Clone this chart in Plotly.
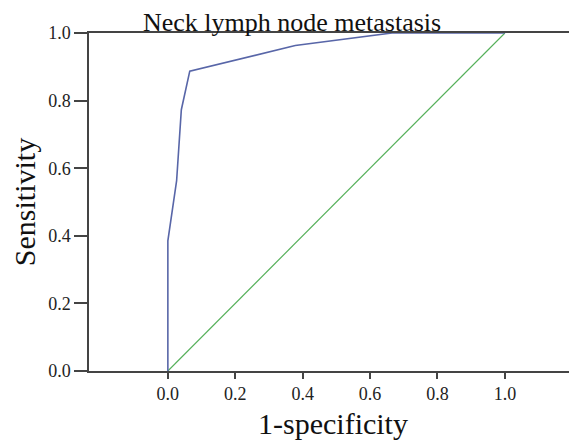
import plotly.graph_objects as go

# ROC curve values
fpr = [0.0, 0.0, 0.026, 0.040, 0.065, 0.378, 0.665, 1.0]
tpr = [0.0, 0.385, 0.563, 0.773, 0.887, 0.963, 1.0, 1.0]
ref_x = [0.0, 1.0]
ref_y = [0.0, 1.0]
tick_vals = [0.0, 0.2, 0.4, 0.6, 0.8, 1.0]
tick_text = ["0.0", "0.2", "0.4", "0.6", "0.8", "1.0"]

FONT = "Liberation Serif, Times New Roman, serif"
AXC = "#444444"

fig = go.Figure()
fig.add_trace(go.Scatter(x=ref_x, y=ref_y, mode="lines",
                         line=dict(color="#55b05a", width=1.2), hoverinfo="skip"))
fig.add_trace(go.Scatter(x=fpr, y=tpr, mode="lines",
                         line=dict(color="#5866a8", width=1.6)))

fig.update_layout(
    width=569, height=433,
    margin=dict(l=81, r=0, t=25, b=70),
    paper_bgcolor="white", plot_bgcolor="white",
    showlegend=False,
    font=dict(family=FONT, color="#111111"),
    annotations=[dict(text="Neck lymph node metastasis", xref="paper", yref="paper",
                      x=(292 - 89) / 488, y=1.0, xanchor="center", yanchor="bottom", yshift=-6,
                      showarrow=False, font=dict(family=FONT, size=26, color="#111111"))],
)
fig.update_xaxes(
    range=[-0.234, 1.214], tickvals=tick_vals, ticktext=tick_text,
    showgrid=False, zeroline=False,
    showline=True, mirror=True, linecolor=AXC, linewidth=1.5,
    ticks="outside", ticklen=6, tickcolor=AXC, tickwidth=1.5,
    tickfont=dict(family=FONT, size=18, color="#222222"),
    title=dict(text="1-specificity", font=dict(family=FONT, size=30, color="#111111"), standoff=10),
)
fig.update_yaxes(
    range=[0, 1.0], tickvals=tick_vals, ticktext=tick_text,
    showgrid=False, zeroline=False,
    showline=True, linecolor=AXC, linewidth=1.5,
    ticks="outside", ticklen=13, tickcolor=AXC, tickwidth=1.5,
    tickfont=dict(family=FONT, size=18, color="#222222"),
    title=dict(text="Sensitivity", font=dict(family=FONT, size=30, color="#111111"), standoff=10),
)

fig.write_html("out.html")
